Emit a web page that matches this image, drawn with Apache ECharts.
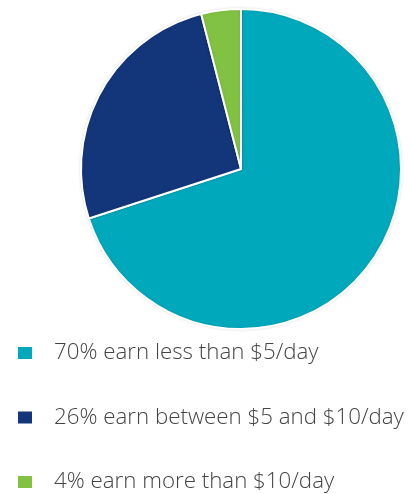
<!DOCTYPE html>
<html>
<head>
<meta charset="utf-8">
<script src="https://cdn.jsdelivr.net/npm/echarts@6/dist/echarts.min.js"></script>
<style>
  html, body { margin: 0; padding: 0; background: #fff; }
  #chart { width: 411px; height: 494px; }
</style>
</head>
<body>
<div id="chart"></div>
<script>
// Daily earnings share
const labels = [
  '70% earn less than $5/day',
  '26% earn between $5 and $10/day',
  '4% earn more than $10/day'
];
const shares = [70, 26, 4];
const colors = ['#00a8bc', '#13357a', '#82c242'];

const chart = echarts.init(document.getElementById('chart'), null, { renderer: 'canvas' });

chart.setOption({
  animation: false,
  color: colors,
  legend: {
    orient: 'vertical',
    left: 16,
    top: 342,
    width: 395,
    height: 200,
    padding: 0,
    itemWidth: 16,
    itemHeight: 14,
    itemGap: 42.5,
    icon: 'rect',
    selectedMode: false,
    textStyle: {
      fontFamily: '"Open Sans", sans-serif',
      fontWeight: 300,
      fontSize: 22.3,
      lineHeight: 22,
      color: '#444444',
      padding: [0, 0, 0, 16]
    },
    data: labels
  },
  series: [{
    type: 'pie',
    center: [241, 169],
    radius: [0, 160],
    startAngle: 90,
    clockwise: true,
    label: { show: false },
    labelLine: { show: false },
    emphasis: { disabled: true },
    itemStyle: {
      borderColor: '#ffffff',
      borderWidth: 2,
      shadowBlur: 3,
      shadowColor: 'rgba(0,0,0,0.12)'
    },
    data: labels.map((name, i) => ({ name, value: shares[i] }))
  }]
});
</script>
</body>
</html>
